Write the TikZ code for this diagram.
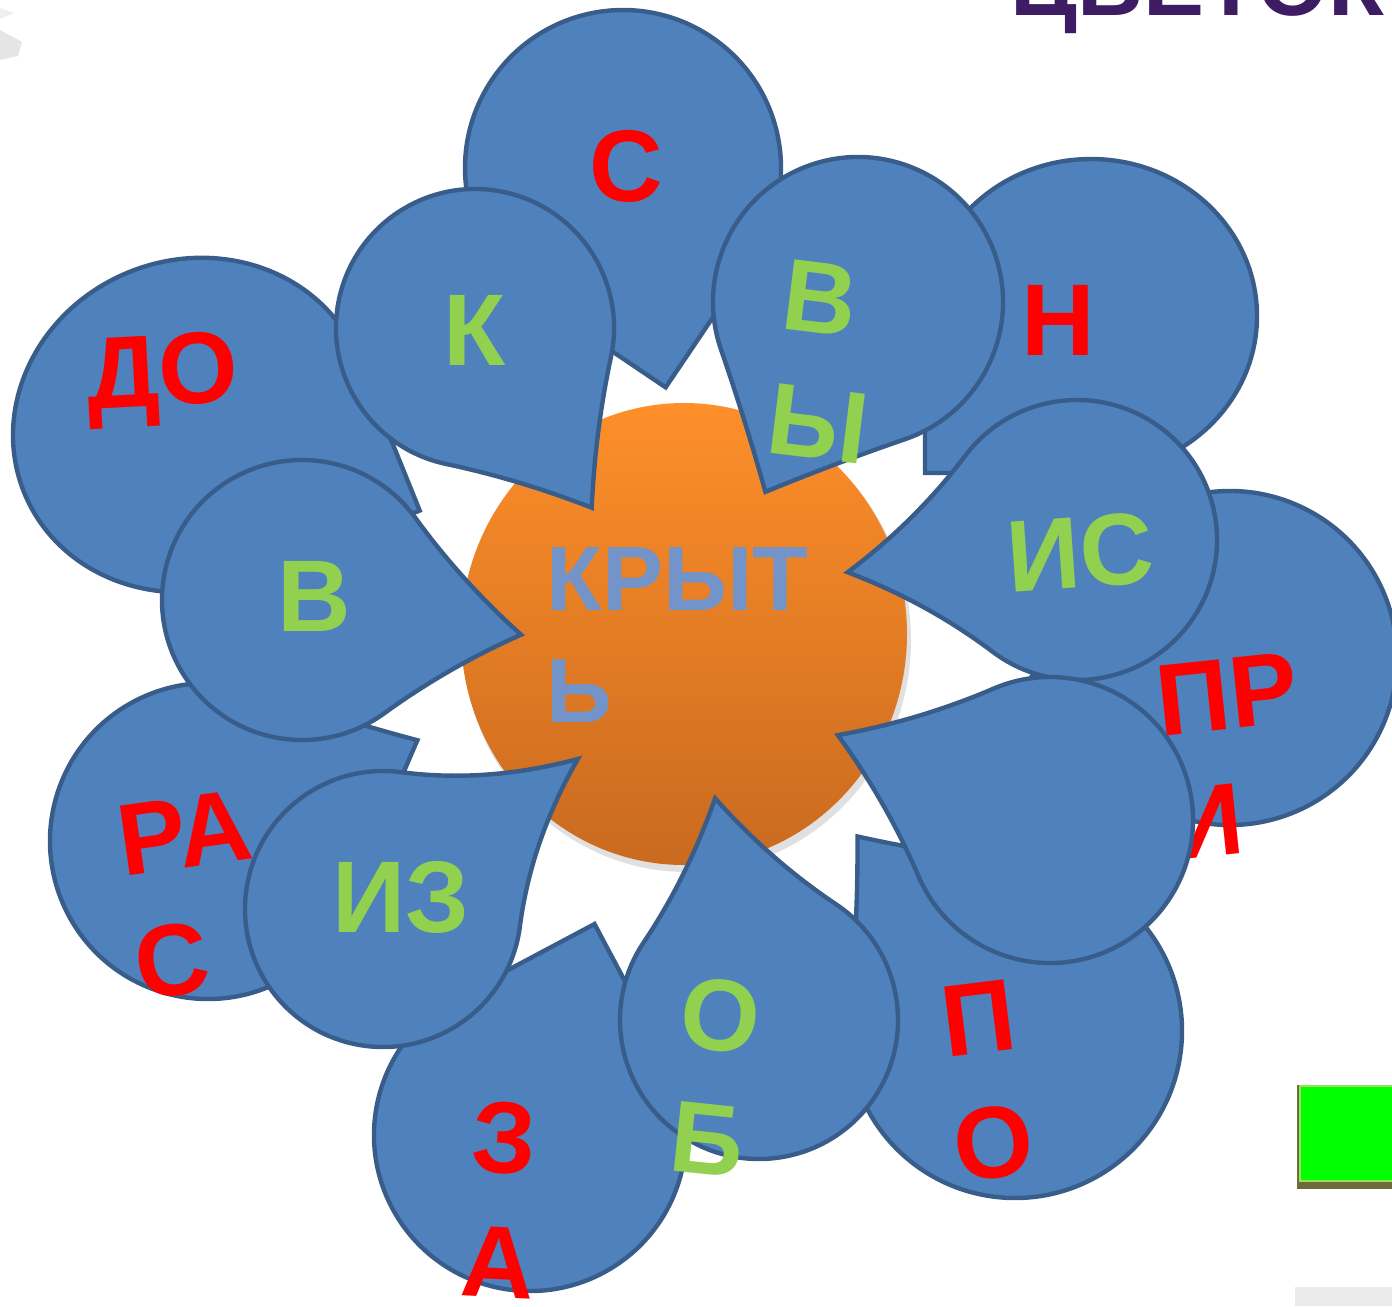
\documentclass[tikz,border=0pt]{standalone}
\usepackage{fontspec}
\setmainfont{Liberation Sans}

\definecolor{petalblue}{HTML}{4F81BD}
\definecolor{petalrim}{HTML}{385D8A}
\definecolor{wordred}{HTML}{FF0000}
\definecolor{wordgreen}{HTML}{92D050}
\definecolor{coretext}{HTML}{7294C9}
\definecolor{coretop}{HTML}{FE8F2A}
\definecolor{corebottom}{HTML}{C96A1F}
\definecolor{titleviolet}{HTML}{3D1C64}
\definecolor{btngreen}{HTML}{00FF00}
\definecolor{btnrim}{HTML}{9BE05A}
\definecolor{btnshade}{HTML}{6E6A3C}

\tikzstyle{petal} = [fill=petalblue, draw=petalrim, line width=2.5pt]
\tikzstyle{redword} = [text=wordred, inner sep=0pt, font=\bfseries\fontsize{58}{71}\selectfont]
\tikzstyle{greenword} = [text=wordgreen, inner sep=0pt, font=\bfseries\fontsize{58}{71}\selectfont]

% teardrop: centre x, centre y, x radius, y radius, rotation, tip factor
\newcommand{\petal}[6]{%
    \draw[petal, shift={(#1,#2)}, rotate=#5]
        (-#3,0) arc[start angle=180, end angle=90, x radius=#3, y radius=#4]
        .. controls ({#6*#3/3},#4) and ({2*#6*#3/3},{#4*(#6+2)/3}) .. ({#6*#3},{#6*#4})
        .. controls ({#3*(#6+2)/3},{2*#6*#4/3}) and (#3,{#6*#4/3}) .. (#3,0)
        arc[start angle=0, end angle=-180, x radius=#3, y radius=#4] -- cycle;}

\begin{document}
\begin{tikzpicture}[x=0.02cm, y=-0.02cm]
    \useasboundingbox (0,0) rectangle (1392,1306);
    \clip (0,0) rectangle (1392,1306);

    % bits of the slide round the flower
    \fill[black!10] (0,30) -- (22,42) -- (18,56) -- (0,60) -- cycle;
    \fill[black!6] (0,8) -- (14,13) -- (0,19) -- cycle;
    \node (title) [text=titleviolet, anchor=base west, inner sep=0pt,
        font=\bfseries\fontsize{52}{60}\selectfont] at (1010,15) {ЦВЕТОК};
    \fill[btnshade] (1297,1085) rectangle (1392,1189);
    \fill[btngreen, draw=btnrim, line width=1.5pt] (1300,1086) rectangle (1396,1181);
    \fill[black!8] (1295,1287) rectangle (1392,1306);

    % centre
    \fill[black, opacity=0.12] (687,640) ellipse [x radius=224, y radius=232];
    \shade[top color=coretop, bottom color=corebottom]
        (684,634) ellipse [x radius=223, y radius=231];
    \node (core) [text=coretext, anchor=north west, inner sep=0pt, align=left,
        font=\bfseries\fontsize{52}{64}\selectfont] at (546,547) {КРЫТ\\Ь};

    \petal{623}{168}{158}{158}{-34}{1}
    \node (wS) [redword] at (626,166) {С};
    \petal{191}{425}{180}{165}{22}{1}
    \node (wDO) [redword, rotate=3] at (163,380) {ДО};
    \petal{475}{328}{139}{139}{-12}{1.09}
    \node (wK) [greenword] at (475,330) {К};
    \petal{208}{841}{158}{158}{70.7}{1.04}
    \node (wRAS) [redword, rotate=8, align=left] at (193,895) {РА\\С};
    \petal{302}{600}{140}{140}{36}{1.12}
    \node (wV) [greenword] at (314,596) {В};
    \petal{530}{1135}{156}{156}{118}{1}
    \node (wZA) [redword, rotate=-3, align=center] at (501,1200) {З\\А};
    \petal{383}{909}{138}{138}{82.6}{1.26}
    \node (wIZ) [greenword] at (401,897) {ИЗ};
    \petal{1015}{1031}{167}{167}{174}{1.06}
    \node (wPO) [redword, rotate=7, align=center] at (986,1081) {П\\О};
    \petal{759}{1020}{139}{139}{146.2}{1.15}
    \node (wOB) [greenword, rotate=-6, align=center] at (714,1077) {О\\Б};
    \petal{1091}{316}{157}{166}{-90}{1}
    \node (wN) [redword] at (1058,320) {Н};
    \petal{858}{302}{145}{145}{-71}{1.03}
    \node (wVY) [greenword, rotate=-7, align=left] at (826,362) {В\\Ы};
    \petal{1230}{658}{167}{167}{245}{1.1}
    \node (wPRI) [redword, rotate=6, align=left] at (1234,756) {ПР\\И};
    \petal{1077}{540}{140}{140}{233}{1.17}
    \node (wIS) [greenword, rotate=4] at (1080,552) {ИС};
    \petal{1050}{820}{143}{143}{203.2}{1.13}
\end{tikzpicture}
\end{document}
